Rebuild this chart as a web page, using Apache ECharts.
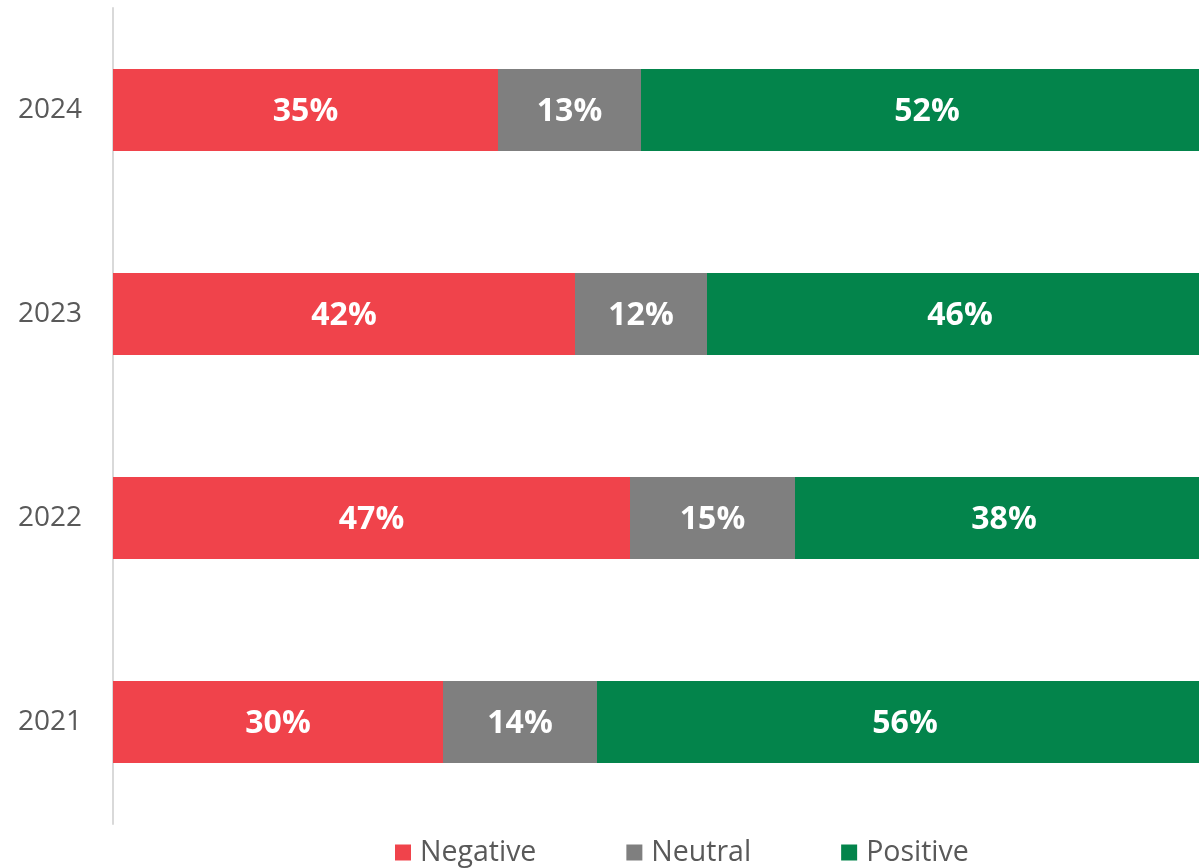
<!DOCTYPE html>
<html>
<head>
<meta charset="utf-8">
<script src="https://cdn.jsdelivr.net/npm/echarts@6/dist/echarts.min.js"></script>
<style>
  html, body { margin: 0; padding: 0; background: #ffffff; overflow: hidden; }
  /* the plot runs a little past the visible right edge */
  #chart { width: 1213px; height: 868px; }
</style>
</head>
<body>
<div id="chart"></div>
<script>
// Survey sentiment by year (percent of responses)
const years = ['2021', '2022', '2023', '2024'];
const negative = [30, 47, 42, 35];
const neutral = [14, 15, 12, 13];
const positive = [56, 38, 46, 52];

const seriesNames = ['Negative', 'Neutral', 'Positive'];
const seriesColors = ['#F0434B', '#7F7F7F', '#03844B'];
const seriesValues = [negative, neutral, positive];

const FONT = '"Open Sans", "Noto Sans", sans-serif';

const chart = echarts.init(document.getElementById('chart'), null, { renderer: 'canvas' });

chart.setOption({
  animation: false,
  backgroundColor: '#ffffff',
  grid: { left: 113, right: 0, top: 8, bottom: 44, containLabel: false },
  legend: {
    top: 838,
    left: 395,
    padding: 0,
    itemWidth: 16,
    itemHeight: 16,
    itemGap: 90,
    icon: 'rect',
    data: seriesNames,
    textStyle: { color: '#595959', fontSize: 28.5, fontFamily: FONT, padding: [0, 0, 0, 4] }
  },
  xAxis: {
    type: 'value',
    min: 0,
    max: 100,
    show: false
  },
  yAxis: {
    type: 'category',
    data: years,
    axisLine: { show: true, lineStyle: { color: '#D9D9D9', width: 2 } },
    axisTick: { show: false },
    axisLabel: { color: '#595959', fontSize: 28, fontFamily: FONT, margin: 31, padding: [4, 0, 0, 0] },
    splitLine: { show: false }
  },
  series: seriesNames.map((name, i) => ({
    name: name,
    type: 'bar',
    stack: 'total',
    barWidth: 82,
    data: seriesValues[i],
    itemStyle: { color: seriesColors[i] },
    label: {
      show: true,
      position: 'inside',
      offset: [0, 2],
      formatter: '{c}%',
      color: '#ffffff',
      fontSize: 32,
      fontWeight: 'bold',
      fontFamily: FONT
    }
  }))
});
</script>
</body>
</html>
